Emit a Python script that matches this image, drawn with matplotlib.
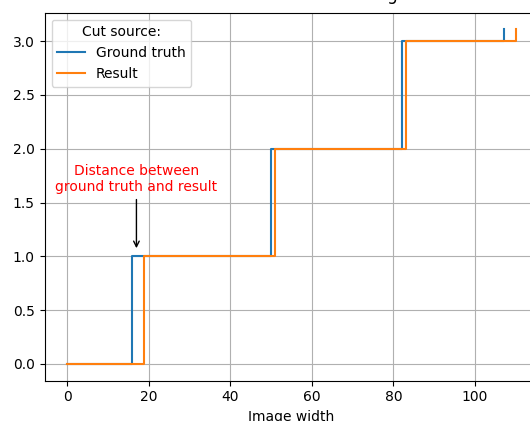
import matplotlib
matplotlib.use("Agg")
import matplotlib.pyplot as plt
import numpy as np

# Cut positions (x = image width)
gt_cuts = [16, 50, 82, 107]
res_cuts = [18.8, 51, 83, 110]
levels = [0, 1, 2, 3]
end_level = 3.11


def step_line(cuts):
    # horizontal run from 0, then a jump at every cut
    xs = np.concatenate([[0], np.repeat(cuts, 2)])
    ys = np.concatenate([np.repeat(levels, 2), [end_level]])
    return xs, ys


fig = plt.figure(figsize=(5.30, 4.21), dpi=100)
ax = fig.add_axes([0.0842, 0.0957, 0.9315, 0.8743])

x_gt, y_gt = step_line(gt_cuts)
x_res, y_res = step_line(res_cuts)
ax.plot(x_gt, y_gt, label="Ground truth")
ax.plot(x_res, y_res, label="Result")

ax.annotate("Distance between\nground truth and result",
            xy=(17, 1.05), xytext=(17, 1.58),
            ha="center", va="bottom", color="red",
            arrowprops=dict(arrowstyle="->", color="black"))

# title sits mostly above the crop, as in the reference
ax.set_title("Results of the line cutting", pad=8.8)
ax.set_xlabel("Image width")
ax.grid(True)
ax.legend(title="Cut source:", loc="upper left")

fig.savefig("out.png", dpi=100)
